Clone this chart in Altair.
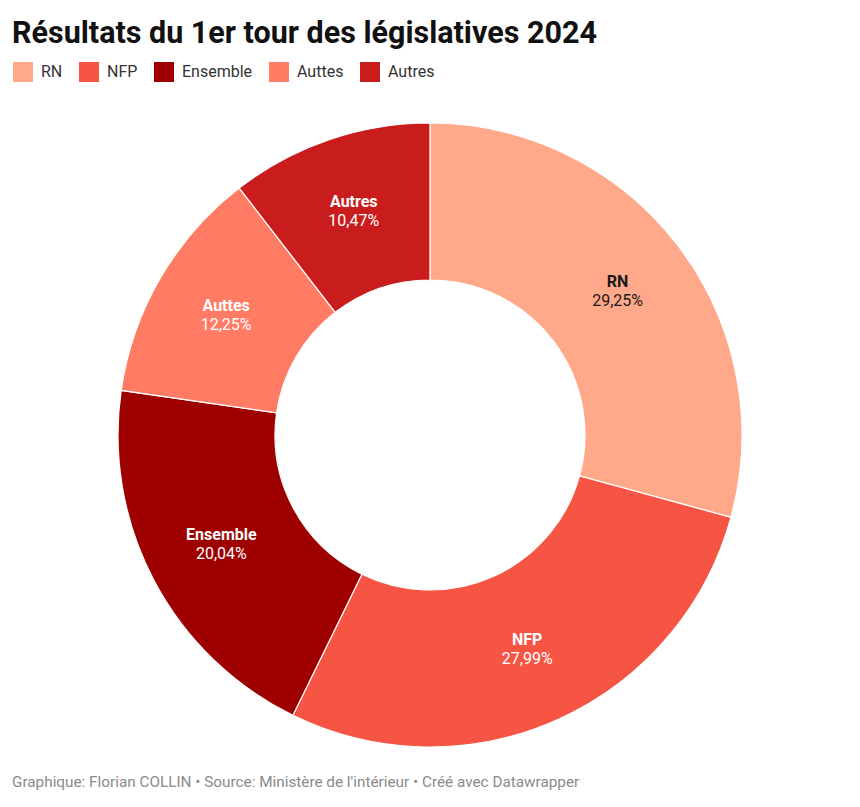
import altair as alt
import pandas as pd

parties = ["RN", "NFP", "Ensemble", "Auttes", "Autres"]
values = [29.25, 27.99, 20.04, 12.25, 10.47]
labels = ["29,25%", "27,99%", "20,04%", "12,25%", "10,47%"]
colors = ["#ffa88a", "#f65544", "#9e0000", "#ff7b63", "#c91d1d"]
text_colors = ["#1a1a1a", "#ffffff", "#ffffff", "#ffffff", "#ffffff"]

title_text = "Résultats du 1er tour des législatives 2024"
footer_text = "Graphique: Florian COLLIN • Source: Ministère de l'intérieur • Créé avec Datawrapper"

df = pd.DataFrame({
    "party": parties,
    "value": values,
    "label": labels,
    "order": list(range(len(parties))),
    "tcolor": text_colors,
})

CX, CY = 422, 427
R_OUT, R_IN, R_LAB = 312, 155, 236

base = alt.Chart(df).encode(
    theta=alt.Theta("value:Q", stack=True),
    order=alt.Order("order:Q"),
)

arcs = base.mark_arc(
    outerRadius=R_OUT, innerRadius=R_IN, stroke="white", strokeWidth=1.2
).encode(
    x=alt.value(CX), y=alt.value(CY),
    color=alt.Color(
        "party:N",
        scale=alt.Scale(domain=parties, range=colors),
        sort=parties,
        legend=alt.Legend(
            title=None, orient="none", legendX=5, legendY=54,
            direction="horizontal", symbolType="square", symbolSize=400,
            symbolStrokeWidth=0, symbolOpacity=1, labelFont="Roboto",
            labelFontSize=16, labelColor="#333333", labelOffset=8,
            columnPadding=16, padding=0, symbolOffset=0,
        ),
    ),
)

names = base.mark_text(
    radius=R_LAB, font="Roboto", fontSize=16, fontWeight="bold", dy=-10
).encode(
    x=alt.value(CX), y=alt.value(CY),
    text="party:N",
    color=alt.Color("tcolor:N", scale=None),
)

pcts = base.mark_text(
    radius=R_LAB, font="Roboto", fontSize=16, dy=9
).encode(
    x=alt.value(CX), y=alt.value(CY),
    text="label:N",
    color=alt.Color("tcolor:N", scale=None),
)

title = alt.Chart(pd.DataFrame({"t": [title_text]})).mark_text(
    font="Roboto", fontSize=30.5, fontWeight="bold", align="left",
    baseline="alphabetic", color="#111111"
).encode(x=alt.value(4), y=alt.value(35), text="t:N")

footer = alt.Chart(pd.DataFrame({"t": [footer_text]})).mark_text(
    font="Roboto", fontSize=15.3, align="left",
    baseline="alphabetic", color="#8a8a8a"
).encode(x=alt.value(4), y=alt.value(779), text="t:N")

chart = alt.layer(arcs, names, pcts, title, footer).properties(
    width=844, height=791, autosize=alt.AutoSizeParams(type="none"),
    padding=0,
).configure_view(stroke=None)

chart.save("out.html", embed_options={"renderer": "svg", "actions": False})
